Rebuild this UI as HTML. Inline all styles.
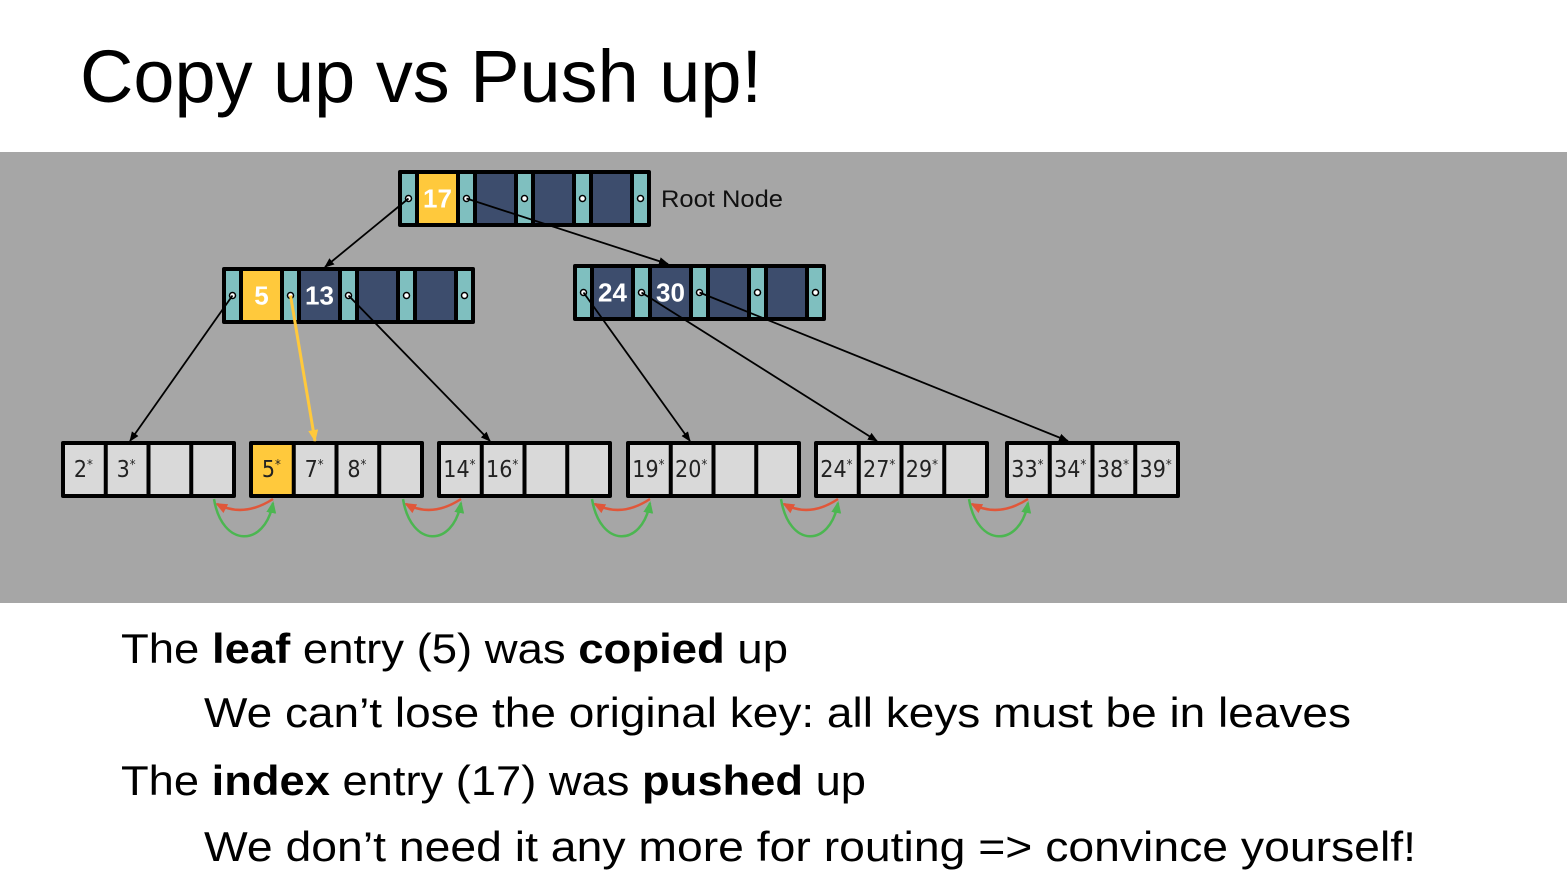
<!DOCTYPE html>
<html><head><meta charset="utf-8"><style>
html,body{margin:0;padding:0;background:#fff;}
svg{display:block;font-family:"Liberation Sans",sans-serif;}
</style></head><body>
<svg id="s" width="1567" height="885" viewBox="0 0 1567 885" xmlns="http://www.w3.org/2000/svg">
<defs>
<marker id="ab" markerWidth="10" markerHeight="10" refX="9" refY="5" orient="auto" markerUnits="userSpaceOnUse"><path d="M0,1 L10,5 L0,9 Z" fill="#000"/></marker>
<marker id="ay" markerWidth="12" markerHeight="12" refX="11" refY="6" orient="auto" markerUnits="userSpaceOnUse"><path d="M0,1 L12,6 L0,11 Z" fill="#ffc93c"/></marker>
<marker id="ar" markerWidth="12" markerHeight="12" refX="10" refY="6" orient="auto" markerUnits="userSpaceOnUse"><path d="M0,1 L12,6 L0,11 Z" fill="#e0573a"/></marker>
<marker id="ag" markerWidth="12" markerHeight="12" refX="10" refY="6" orient="auto" markerUnits="userSpaceOnUse"><path d="M0,1 L12,6 L0,11 Z" fill="#4cb651"/></marker>
</defs>
<text x="80" y="102" font-size="74" textLength="682" lengthAdjust="spacingAndGlyphs">Copy up vs Push up!</text>
<rect x="0" y="152" width="1567" height="451" fill="#a6a6a6"/>
<g id="tree"></g>
<text x="661" y="207" font-size="24" fill="#111" textLength="122" lengthAdjust="spacingAndGlyphs">Root Node</text>
<g font-size="42" fill="#000">
<text x="121" y="663" textLength="667" lengthAdjust="spacingAndGlyphs">The <tspan font-weight="bold">leaf</tspan> entry (5) was <tspan font-weight="bold">copied</tspan> up</text>
<text x="204" y="727" textLength="1147" lengthAdjust="spacingAndGlyphs">We can’t lose the original key: all keys must be in leaves</text>
<text x="121" y="795" textLength="745" lengthAdjust="spacingAndGlyphs">The <tspan font-weight="bold">index</tspan> entry (17) was <tspan font-weight="bold">pushed</tspan> up</text>
<text x="204" y="861" textLength="1212" lengthAdjust="spacingAndGlyphs">We don’t need it any more for routing =&gt; convince yourself!</text>
</g>
</svg>
<script>
const rootKeys = ["17","","",""];
const leftKeys = ["5","13","",""];
const rightKeys = ["24","30","",""];
const leafKeys = [["2*","3*","",""],["5*","7*","8*",""],["14*","16*","",""],["19*","20*","",""],["24*","27*","29*",""],["33*","34*","38*","39*"]];
const NS="http://www.w3.org/2000/svg";
const g=document.getElementById('tree');
function el(t,a,p){const e=document.createElementNS(NS,t);for(const k in a)e.setAttribute(k,a[k]);(p||g).appendChild(e);return e;}
const ptrPos={};
function inner(id,x,y,keys,yellowIdx){
  const w=253,h=57,pw=13,kw=37,gp=4;
  const r=el('rect',{x:x,y:y,width:w,height:h,fill:'#000',rx:2});
  
  
  let cx=x+gp;ptrPos[id]=[];
  for(let i=0;i<5;i++){
    el('rect',{x:cx,y:y+gp,width:pw,height:h-2*gp,fill:'#7fbfbf'});
    ptrPos[id].push([cx+pw/2,y+h/2]);
    el('circle',{cx:cx+pw/2,cy:y+h/2,r:3,fill:'#fff',stroke:'#000','stroke-width':1.5});
    cx+=pw+gp;
    if(i<4){
      el('rect',{x:cx,y:y+gp,width:kw,height:h-2*gp,fill:i===yellowIdx?'#ffc93c':'#3d4d6d'});
      if(keys[i]){const t=el('text',{x:cx+kw/2,y:y+h/2+9,'text-anchor':'middle','font-size':26,'font-weight':'bold',fill:'#fff','font-family':'Liberation Sans Narrow, Liberation Sans, sans-serif'});t.textContent=keys[i];
        
        }
      cx+=kw+gp;
    }
  }
}
const leafX=[61,249,437,626,814,1005];
const leafY=441,leafH=57,leafW=175;
leafKeys.forEach((ks,li)=>{
  const x=leafX[li];
  const r=el('rect',{x:x,y:leafY,width:leafW,height:leafH,fill:'#000',rx:2});
  
  
  const cw=(leafW-4-4*4)/4+0;
  for(let i=0;i<4;i++){
    const cx=x+4+i*(cw+4);
    el('rect',{x:cx,y:leafY+4,width:cw,height:leafH-8,fill:(li===1&&i===0)?'#ffc93c':'#d9d9d9'});
    if(ks[i]){const t=el('text',{x:cx+cw/2-1,y:leafY+36,'text-anchor':'middle','font-size':23,fill:'#222','font-family':'Liberation Sans Narrow, DejaVu Sans Condensed, sans-serif'});
      t.textContent=ks[i].replace('*','');
      const s=el('tspan',{'font-size':13,dy:-8},t);s.textContent='*';
      
      }
  }
});
inner('root',398,170,rootKeys,0);
inner('left',222,267,leftKeys,0);
inner('right',573,264,rightKeys,-1);
function line(a,b,m,c,w){el('line',{x1:a[0],y1:a[1],x2:b[0],y2:b[1],stroke:c,'stroke-width':w,'marker-end':'url(#'+m+')'});}
line(ptrPos.root[0],[325,267],'ab','#000',1.8);
line(ptrPos.root[1],[668,264],'ab','#000',1.8);
line(ptrPos.left[0],[130,441],'ab','#000',1.8);
line(ptrPos.left[1],[315,441],'ay','#ffc93c',3);
line(ptrPos.left[2],[490,441],'ab','#000',1.8);
line(ptrPos.right[0],[690,441],'ab','#000',1.8);
line(ptrPos.right[1],[877,441],'ab','#000',1.8);
line(ptrPos.right[2],[1068,441],'ab','#000',1.8);
const sib=[[214,273],[403,461],[592,650],[781,838],[969,1028]];
sib.forEach(([a,b])=>{
  el('path',{d:`M${b},${leafY+leafH+1} Q${(a+b)/2},${leafY+leafH+20} ${a+3},${leafY+leafH+6}`,fill:'none',stroke:'#e0573a','stroke-width':2.5,'marker-end':'url(#ar)'});
  el('path',{d:`M${a},${leafY+leafH+1} C${a+8},${leafY+leafH+50} ${b-8},${leafY+leafH+50} ${b},${leafY+leafH+5}`,fill:'none',stroke:'#4cb651','stroke-width':2.5,'marker-end':'url(#ag)'});
});
</script>
</body></html>
